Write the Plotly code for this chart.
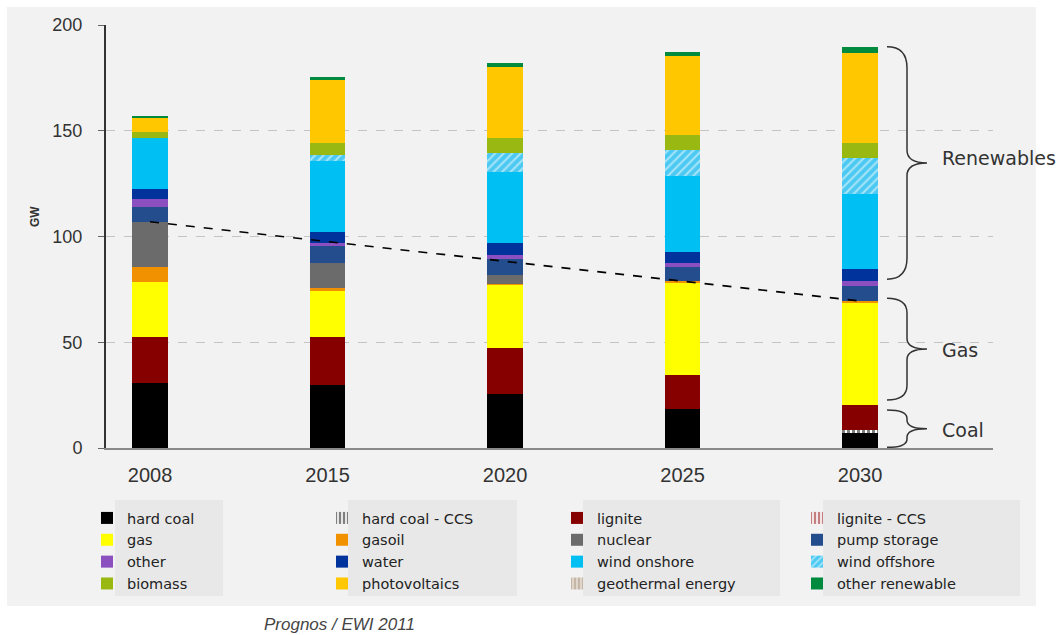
import plotly.graph_objects as go

# Installed capacity in Germany by technology, GW
years = ["2008", "2015", "2020", "2025", "2030"]

hard_coal       = [30.6, 29.8, 25.5, 18.3, 7.0]
hard_coal_ccs   = [0.0, 0.0, 0.0, 0.0, 1.5]
lignite         = [22.0, 22.8, 21.6, 16.2, 11.8]
lignite_ccs     = [0.0, 0.0, 0.0, 0.0, 0.0]
gas             = [26.0, 22.1, 30.0, 43.4, 48.7]
gasoil          = [7.1, 0.8, 0.5, 1.0, 0.5]
nuclear         = [21.3, 12.1, 4.3, 0.0, 0.0]
pump_storage    = [6.8, 7.9, 7.4, 6.6, 7.0]
other           = [3.8, 1.6, 2.0, 1.9, 2.5]
water           = [4.7, 5.0, 5.5, 5.2, 5.4]
wind_onshore    = [24.1, 33.6, 33.8, 35.8, 35.9]
wind_offshore   = [0.0, 2.7, 8.7, 12.3, 16.6]
biomass         = [3.2, 6.0, 7.1, 7.1, 7.4]
photovoltaics   = [6.5, 29.4, 33.6, 37.5, 42.7]
geothermal      = [0.0, 0.0, 0.0, 0.0, 0.0]
other_renewable = [1.0, 1.4, 1.9, 1.9, 2.5]

y_ticks = [0, 50, 100, 150, 200]

# (name, values, colour, pattern, legend column) in stacking order, bottom to top
series = [
    ("hard coal", hard_coal, "#000000", None, "legend"),
    ("hard coal - CCS", hard_coal_ccs, "#000000",
     dict(shape="|", fgcolor="#000000", bgcolor="#ffffff", size=5, solidity=0.6), "legend2"),
    ("lignite", lignite, "#870000", None, "legend3"),
    ("lignite - CCS", lignite_ccs, "#870000",
     dict(shape="|", fgcolor="#870000", bgcolor="#ffffff", size=5, solidity=0.6), "legend4"),
    ("gas", gas, "#ffff00", None, "legend"),
    ("gasoil", gasoil, "#f29100", None, "legend2"),
    ("nuclear", nuclear, "#6b6b6b", None, "legend3"),
    ("pump storage", pump_storage, "#234d8c", None, "legend4"),
    ("other", other, "#8c4fbf", None, "legend"),
    ("water", water, "#00339c", None, "legend2"),
    ("wind onshore", wind_onshore, "#00bff3", None, "legend3"),
    ("wind offshore", wind_offshore, "#4cc9f2",
     dict(shape="/", fgcolor="#ffffff", bgcolor="#4cc9f2", size=6, solidity=0.35), "legend4"),
    ("biomass", biomass, "#99b811", None, "legend"),
    ("photovoltaics", photovoltaics, "#ffc700", None, "legend2"),
    ("geothermal energy", geothermal, "#a38f7a",
     dict(shape="|", fgcolor="#a38f7a", bgcolor="#e6ddd3", size=5, solidity=0.6), "legend3"),
    ("other renewable", other_renewable, "#008a3e", None, "legend4"),
]

fig = go.Figure()
for name, vals, color, pattern, leg in series:
    marker = dict(color=color, line=dict(width=0))
    if pattern:
        marker["pattern"] = pattern
    fig.add_trace(go.Bar(x=years, y=vals, name=name, marker=marker,
                         width=0.2, legend=leg))

# conventional capacity (fossil + nuclear), first vs last year
conventional = [sum(v) for v in zip(hard_coal, hard_coal_ccs, lignite, lignite_ccs,
                                    gas, gasoil, nuclear)]
fig.add_trace(go.Scatter(x=[years[0], years[-1]], y=[conventional[0], conventional[-1]],
                         mode="lines", line=dict(color="#000000", width=1.6, dash="dash"),
                         showlegend=False, hoverinfo="skip"))

# page geometry in pixels
W_PX, H_PX = 1064, 635
L, R, T, B = 106, 993, 25, 448
PW, PH = R - L, B - T


def px_x(p):
    return (p - L) / PW


def px_y(p):
    return (B - p) / PH


shapes = []
# grey panel
shapes.append(dict(type="rect", xref="paper", yref="paper", layer="below",
                   x0=px_x(7), x1=px_x(1036), y0=px_y(606), y1=px_y(7),
                   fillcolor="#f2f2f2", line=dict(width=0)))
# legend column boxes
for x0, x1 in [(115, 223), (348, 517), (583, 780), (823, 1020)]:
    shapes.append(dict(type="rect", xref="paper", yref="paper", layer="below",
                       x0=px_x(x0), x1=px_x(x1), y0=px_y(596), y1=px_y(500),
                       fillcolor="#e8e8e8", line=dict(width=0)))


def brace(ytop, ybot, r, rt):
    x0, xm, xt = px_x(887), px_x(907), px_x(927)
    ym = (ytop + ybot) / 2
    return (f"M {x0},{ytop} Q {xm},{ytop} {xm},{ytop - r} "
            f"L {xm},{ym + rt} Q {xm},{ym} {xt},{ym} "
            f"Q {xm},{ym} {xm},{ym - rt} "
            f"L {xm},{ybot + r} Q {xm},{ybot} {x0},{ybot}")


for ytop, ybot, r, rt in [(189.7, 79.8, 10, 6), (70.8, 22.7, 7, 5), (18.0, 0.3, 4, 4)]:
    shapes.append(dict(type="path", xref="paper", yref="y", path=brace(ytop, ybot, r, rt),
                       line=dict(color="#333333", width=1.5)))

annotations = []
for text, yv in [("Renewables", 137), ("Gas", 46.3), ("Coal", 8.5)]:
    annotations.append(dict(text=text, x=px_x(940), y=yv, xref="paper", yref="y",
                            xanchor="left", yanchor="middle", showarrow=False,
                            font=dict(family="DejaVu Sans", size=19, color="#333333")))
annotations.append(dict(text="<b>GW</b>", x=px_x(35), y=px_y(217), xref="paper", yref="paper",
                        textangle=-90, showarrow=False, xanchor="center", yanchor="middle",
                        font=dict(family="Liberation Sans", size=12, color="#333333")))
annotations.append(dict(text="<i>Prognos / EWI 2011</i>", x=px_x(339), y=px_y(624),
                        xref="paper", yref="paper", showarrow=False,
                        xanchor="center", yanchor="middle",
                        font=dict(family="Liberation Sans", size=17, color="#444444")))

legend_font = dict(family="DejaVu Sans", size=14.5, color="#222222")
legend_common = dict(orientation="v", xanchor="left", yanchor="top", y=px_y(502),
                     bgcolor="rgba(0,0,0,0)", traceorder="normal", font=legend_font,
                     tracegroupgap=0)

fig.update_layout(
    width=W_PX, height=H_PX,
    margin=dict(l=L, r=W_PX - R, t=T, b=H_PX - B, pad=0),
    paper_bgcolor="#ffffff",
    plot_bgcolor="rgba(0,0,0,0)",
    barmode="stack",
    shapes=shapes,
    annotations=annotations,
    legend=dict(x=px_x(87), **legend_common),
    legend2=dict(x=px_x(322), **legend_common),
    legend3=dict(x=px_x(557), **legend_common),
    legend4=dict(x=px_x(797), **legend_common),
    xaxis=dict(type="category", range=[-0.248, 4.749], showgrid=False,
               showline=True, linecolor="#8a8a8a", linewidth=1.5, ticks="",
               tickfont=dict(family="Liberation Sans", size=20, color="#333333"),
               ticklabelstandoff=8, zeroline=False),
    yaxis=dict(range=[0, 200], tickvals=y_ticks, showgrid=True,
               gridcolor="#c4c4c4", griddash="dash", gridwidth=1,
               showline=True, linecolor="#333333", linewidth=2,
               ticks="outside", ticklen=6, tickcolor="#666666",
               tickfont=dict(family="Liberation Sans", size=18, color="#333333"),
               ticklabelstandoff=12, zeroline=False),
)

fig.write_html("out.html")
